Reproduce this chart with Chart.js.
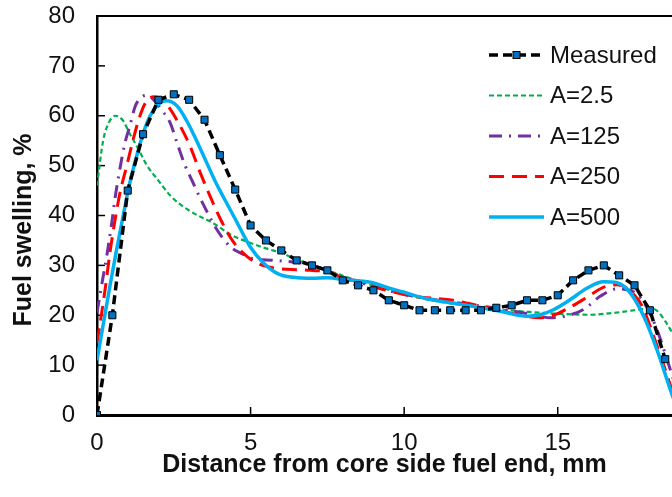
<!DOCTYPE html>
<html><head><meta charset="utf-8">
<script src="https://cdn.jsdelivr.net/npm/chart.js@4/dist/chart.umd.min.js"></script>
<style>html,body{margin:0;padding:0;background:#fff;overflow:hidden}#wrap{position:relative;width:672px;height:497px}</style>
</head><body><div id="wrap"><canvas id="c" width="672" height="497"></canvas></div>
<script>
// ---- data ----
const xTickLabels = [0, 5, 10, 15];
const yTickLabels = [0, 10, 20, 30, 40, 50, 60, 70, 80];
const seriesNames = ['Measured', 'A=2.5', 'A=125', 'A=250', 'A=500'];

const measuredX = [0,0.5,1,1.5,2,2.5,3,3.5,4,4.5,5,5.5,6,6.5,7,7.5,8,8.5,9,9.5,10,10.5,11,11.5,12,12.5,13,13.5,14,14.5,15,15.5,16,16.5,17,17.5,18,18.5];
const measuredY = [0,20,45,56.3,63.2,64.3,63.2,59.2,52.1,45.2,38,35,33,31,30,29,27,26,25,23,22,21,21,21,21,21,21.5,22,23,23,24,27,29,30,28,26,21,11.2];

const a25X = [0,0.2,0.4,0.6,0.85,1.05,1.35,1.6,2.0,2.4,3.0,3.8,4.4,5.0,5.5,6.0,6.5,7.0,7.6,8.7,9.5,10.0,11.0,12.0,13.0,14.0,15.0,16.0,17.0,17.6,18.0,18.25,18.5,18.75,19.0];
const a25Y = [46,55,58.8,60,59,56.6,53.3,50.3,47,43.9,41,38.4,36,34.5,33.4,32.5,31.2,30.1,28.8,26.5,25.1,24.2,22.9,21.9,21.2,20.7,20.3,20.1,20.6,21.1,21.4,20.8,18.8,16.2,13];

const a125X = [0,0.15,0.32,0.48,0.6,0.75,0.9,1.07,1.25,1.45,1.62,1.8,2.1,2.38,2.62,2.87,3.08,3.35,3.63,3.9,4.33,4.77,5.1,5.5,6.0,6.5,7.0,7.5,8.0,8.7,9.5,10.5,11.5,12.3,12.8,13.5,14.2,14.76,15.3,15.85,16.38,16.93,17.5,17.9,18.25,18.56,18.8,19.0];
const a125Y = [20.5,26,32,38.5,44,49.5,54.3,58,62,63.7,64.1,63.5,61.2,58.6,54.3,50,47.2,43.6,40.2,37.2,33.8,32.2,31.3,31.1,30.9,30.6,30.0,28.9,27.6,26.3,24.9,23.6,22.7,22.0,21.6,20.9,20.1,19.5,19.9,21.2,23.8,25.3,24.6,21.6,16.8,11.1,6.5,3];

const a250X = [0,0.26,0.42,0.59,0.75,0.97,1.18,1.4,1.6,1.85,2.05,2.27,2.65,3.03,3.36,3.68,4.0,4.44,4.88,5.31,5.74,6.2,6.94,7.59,8.0,8.67,9.1,10.2,11.6,12.15,13.0,13.7,14.4,14.86,15.4,15.95,16.45,16.93,17.36,17.75,18.1,18.56,18.8,19.0];
const a250Y = [14.4,25,32.5,39.2,44.6,50,55.3,60,62.8,63.8,63.5,62.3,58.6,53.9,48.6,43.9,39.5,34.7,31.8,30.2,29.5,29.2,29.0,28.6,27.5,26.6,25.6,23.9,23.0,22.3,21.1,20.1,19.5,20.0,21.6,23.6,25.5,26.1,24.9,21.8,16.2,8.0,3.5,0.5];

const a500X = [0,0.21,0.42,0.64,0.86,1.07,1.29,1.51,1.73,2.0,2.25,2.6,2.92,3.25,3.57,3.9,4.22,4.5,4.98,5.42,5.9,6.4,7.0,7.5,8.1,8.9,9.6,10.0,10.74,11.4,12.15,13.2,14.0,14.43,14.86,15.4,15.95,16.49,16.93,17.36,17.8,18.23,18.66,18.9];
const a500Y = [11,18.4,25.8,33.2,40.2,46.6,51.9,56.6,60,62.3,63,62,59,54.9,50.6,46.2,42.5,39.3,33.8,30.5,28.3,27.6,27.4,27.5,27.1,26.6,25.3,24.6,23.3,22.6,21.9,20.7,19.8,20.1,21.1,23.1,25.4,26.7,26.5,24.5,19.8,13.1,5.2,1];

// ---- build ----
const pts = (xs, ys) => xs.map((x, i) => ({x: x, y: ys[i]}));
const FONT = '"Liberation Sans", Arial, Helvetica, sans-serif';
Chart.defaults.font.family = FONT;
Chart.defaults.color = '#111';

const datasets = [
  {label: seriesNames[0], data: pts(measuredX, measuredY), borderColor: '#000', borderWidth: 3.5, borderDash: [9,5],
   pointStyle: 'rect', pointRadius: 5, pointBackgroundColor: '#0070C0', pointBorderColor: '#000', pointBorderWidth: 1,
   tension: 0, order: 0},
  {label: seriesNames[1], data: pts(a25X, a25Y), borderColor: '#00B050', borderWidth: 2.2, borderDash: [5,3],
   pointRadius: 0, cubicInterpolationMode: 'monotone', order: 4},
  {label: seriesNames[2], data: pts(a125X, a125Y), borderColor: '#7030A0', borderWidth: 3, borderDash: [13,7,2,7],
   pointRadius: 0, cubicInterpolationMode: 'monotone', order: 3},
  {label: seriesNames[3], data: pts(a250X, a250Y), borderColor: '#FF0000', borderWidth: 3, borderDash: [15,8],
   pointRadius: 0, cubicInterpolationMode: 'monotone', order: 2},
  {label: seriesNames[4], data: pts(a500X, a500Y), borderColor: '#00B0F0', borderWidth: 3.5,
   pointRadius: 0, cubicInterpolationMode: 'monotone', order: 1}
];

const framePlugin = {
  id: 'frame',
  beforeDatasetsDraw(chart) {
    const {ctx, chartArea: a, scales: {x, y}} = chart;
    ctx.save();
    ctx.strokeStyle = '#000';
    ctx.lineWidth = 1.5;
    y.ticks.forEach(t => {
      if (t.value === 0) return;
      const py = y.getPixelForValue(t.value);
      ctx.beginPath(); ctx.moveTo(a.left, py); ctx.lineTo(a.left + 8, py); ctx.stroke();
    });
    x.ticks.forEach(t => {
      if (t.value === 0) return;
      const px = x.getPixelForValue(t.value);
      ctx.beginPath(); ctx.moveTo(px, a.bottom); ctx.lineTo(px, a.bottom - 8); ctx.stroke();
    });
    ctx.lineWidth = 2;
    ctx.beginPath(); ctx.moveTo(a.left, a.top); ctx.lineTo(a.right, a.top); ctx.stroke();
    ctx.restore();
  },
  afterDraw(chart) {
    const ctx = chart.ctx;
    ctx.save();
    ctx.translate(24, 230);
    ctx.rotate(-Math.PI / 2);
    ctx.font = 'bold 25px ' + FONT;
    ctx.fillStyle = '#111';
    ctx.textAlign = 'center';
    ctx.textBaseline = 'middle';
    ctx.fillText('Fuel swelling, %', 0, 0);
    ctx.restore();

    const order = [0, 1, 2, 3, 4];
    const x0 = 489, x1 = 544, tx = 550, yStart = 55, dy = 40.5;
    ctx.save();
    ctx.font = '24px ' + FONT;
    ctx.textBaseline = 'middle';
    ctx.textAlign = 'left';
    order.forEach((di, r) => {
      const ds = chart.data.datasets[di];
      const yy = yStart + r * dy;
      ctx.save();
      ctx.strokeStyle = ds.borderColor;
      ctx.lineWidth = ds.borderWidth;
      ctx.setLineDash(ds.borderDash || []);
      ctx.beginPath(); ctx.moveTo(x0, yy); ctx.lineTo(x1, yy); ctx.stroke();
      ctx.setLineDash([]);
      if (ds.pointStyle === 'rect') {
        const cx = (x0 + x1) / 2, s = 7;
        ctx.fillStyle = ds.pointBackgroundColor;
        ctx.fillRect(cx - s / 2, yy - s / 2, s, s);
        ctx.lineWidth = 1; ctx.strokeStyle = '#000';
        ctx.strokeRect(cx - s / 2, yy - s / 2, s, s);
      }
      ctx.restore();
      ctx.fillStyle = '#111';
      ctx.fillText(ds.label, tx, yy + 1);
    });
    ctx.restore();
  }
};

new Chart(document.getElementById('c'), {
  type: 'line',
  data: {datasets: datasets},
  options: {
    responsive: false,
    animation: false,
    devicePixelRatio: 1,
    layout: {autoPadding: false, padding: {left: 0, right: 0, top: 16, bottom: 0}},
    plugins: {legend: {display: false}, tooltip: {enabled: false}},
    scales: {
      x: {
        type: 'linear', min: 0, max: 18.72,
        afterBuildTicks: s => { s.ticks = xTickLabels.map(v => ({value: v})); },
        afterFit: s => { s.height = 82; s.paddingLeft = 0; s.paddingRight = 0; },
        ticks: {font: {size: 24}, padding: 14, color: '#111', includeBounds: false, maxRotation: 0},
        grid: {display: false, drawTicks: false},
        border: {display: true, color: '#000', width: 3},
        title: {display: true, text: 'Distance from core side fuel end, mm', font: {size: 25, weight: 'bold'}, color: '#111', padding: {top: 0, bottom: 17}}
      },
      y: {
        type: 'linear', min: 0, max: 80,
        afterBuildTicks: s => { s.ticks = yTickLabels.map(v => ({value: v})); },
        afterFit: s => { s.width = 97; s.paddingTop = 0; s.paddingBottom = 0; },
        ticks: {font: {size: 24}, padding: 22, color: '#111'},
        grid: {display: false, drawTicks: false},
        border: {display: true, color: '#000', width: 2.5}
      }
    }
  },
  plugins: [framePlugin]
});
</script>
</body></html>
